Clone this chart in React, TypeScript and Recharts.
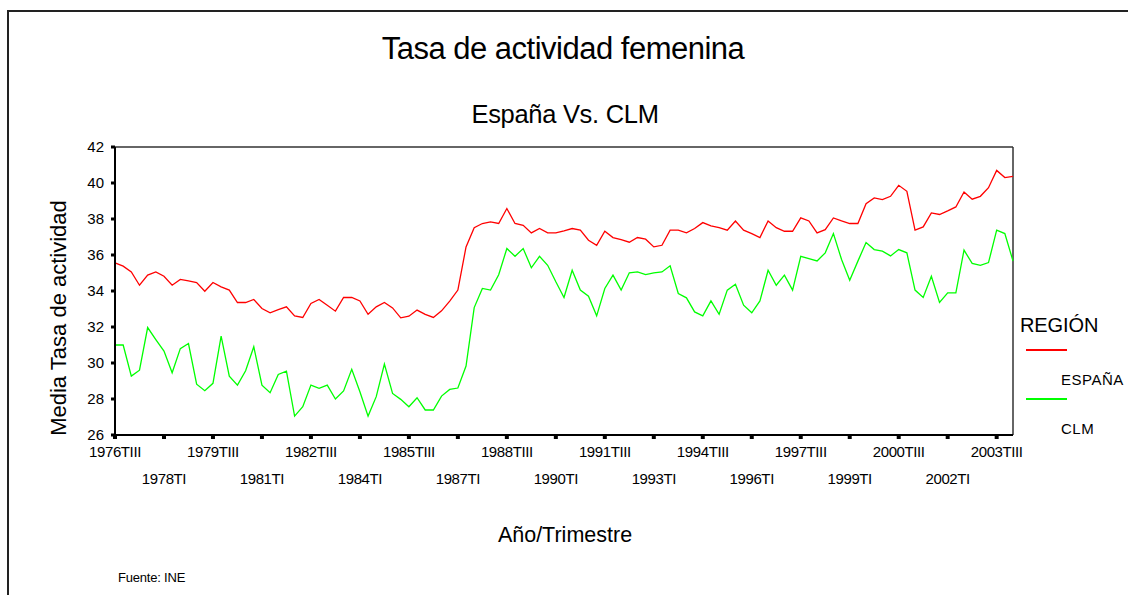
import React from "react";
import { LineChart, Line, XAxis, YAxis, ReferenceLine } from "recharts";

// Tasa de actividad femenina, trimestral 1976TIII - 2004TI
const START_YEAR = 1976;
const START_QUARTER = 3;
const QUARTER_NAMES = ["TI", "TII", "TIII", "TIV"];

const ESPANA = [
  35.56, 35.38, 35.06, 34.32, 34.88, 35.06, 34.82, 34.32, 34.64, 34.56,
  34.47, 33.99, 34.47, 34.23, 34.05, 33.36, 33.36, 33.53, 33.03, 32.79,
  32.97, 33.12, 32.62, 32.53, 33.31, 33.53, 33.21, 32.88, 33.64, 33.64,
  33.45, 32.71, 33.12, 33.36, 33.06, 32.51, 32.6, 32.94, 32.7, 32.53,
  32.9, 33.44, 34.05, 36.45, 37.52, 37.75, 37.84, 37.75, 38.58, 37.75,
  37.65, 37.23, 37.47, 37.23, 37.23, 37.34, 37.47, 37.38, 36.82, 36.54,
  37.32, 36.97, 36.86, 36.71, 36.97, 36.88, 36.45, 36.54, 37.38, 37.38,
  37.23, 37.47, 37.8, 37.62, 37.52, 37.38, 37.89, 37.38, 37.19, 36.97,
  37.89, 37.52, 37.32, 37.32, 38.06, 37.89, 37.23, 37.41, 38.06, 37.89,
  37.75, 37.75, 38.85, 39.17, 39.08, 39.26, 39.87, 39.54, 37.38, 37.56,
  38.34, 38.25, 38.45, 38.67, 39.5, 39.1, 39.26, 39.74, 40.7, 40.3,
  40.37,
];

const CLM = [
  31.0, 31.0, 29.27, 29.6, 31.97, 31.3, 30.66, 29.46, 30.8, 31.08,
  28.82, 28.46, 28.87, 31.49, 29.27, 28.77, 29.57, 30.9, 28.77, 28.35,
  29.36, 29.55, 27.05, 27.57, 28.77, 28.59, 28.77, 28.0, 28.45, 29.65,
  28.4, 27.05, 28.13, 29.94, 28.31, 27.98, 27.57, 28.07, 27.39, 27.39,
  28.16, 28.53, 28.61, 29.83, 33.08, 34.14, 34.05, 34.9, 36.36, 35.93,
  36.36, 35.29, 35.93, 35.43, 34.51, 33.64, 35.15, 34.05, 33.71, 32.62,
  34.14, 34.88, 34.05, 35.01, 35.06, 34.91, 35.01, 35.06, 35.4, 33.86,
  33.62, 32.84, 32.62, 33.45, 32.71, 34.05, 34.38, 33.21, 32.79, 33.45,
  35.15, 34.32, 34.88, 34.05, 35.93, 35.8, 35.67, 36.12, 37.19, 35.75,
  34.6, 35.66, 36.69, 36.3, 36.21, 35.95, 36.3, 36.12, 34.05, 33.64,
  34.82, 33.36, 33.9, 33.9, 36.27, 35.53, 35.43, 35.58, 37.38, 37.19,
  35.67,
];

const Y_TICKS = [26, 28, 30, 32, 34, 36, 38, 40, 42];

const SERIES = [
  { key: "espana", name: "ESPAÑA", color: "#ff0000", values: ESPANA },
  { key: "clm", name: "CLM", color: "#00ff00", values: CLM },
];

const FONT = '"Liberation Sans", Arial, sans-serif';

function periodLabel(i: number) {
  const q = START_QUARTER - 1 + i;
  const year = START_YEAR + Math.floor(q / 4);
  return `${year}${QUARTER_NAMES[q % 4]}`;
}

const data = ESPANA.map((_, i) => {
  const row: Record<string, number | string> = { period: periodLabel(i) };
  SERIES.forEach((s) => {
    row[s.key] = s.values[i];
  });
  return row;
});

function XTick(props: any) {
  const { x, y, payload } = props;
  const label = String(payload.value);
  const lower = !label.endsWith("TIII");
  return (
    <text
      x={x}
      y={y + (lower ? 43 : 16)}
      textAnchor="middle"
      fontSize={15}
      fontFamily={FONT}
      letterSpacing={-0.4}
      fill="#000"
    >
      {label}
    </text>
  );
}

export default function App() {
  return (
    <div
      style={{
        position: "absolute",
        left: 0,
        top: 0,
        width: 1128,
        height: 595,
        background: "#fff",
        overflow: "hidden",
        fontFamily: FONT,
        color: "#000",
      }}
    >
      <div
        style={{
          position: "absolute",
          left: 7,
          top: 10,
          width: 1140,
          height: 600,
          borderTop: "2px solid #222",
          borderLeft: "2px solid #222",
        }}
      />
      <div style={{ position: "absolute", left: 0, top: 0 }}>
        <LineChart
          width={1128}
          height={595}
          data={data}
          margin={{ top: 147, right: 115, bottom: 100, left: 55 }}
        >
          <XAxis
            dataKey="period"
            interval={5}
            height={60}
            axisLine={{ stroke: "#000", strokeWidth: 2 }}
            tickLine={{ stroke: "#000", strokeWidth: 4 }}
            tickSize={4}
            tick={<XTick />}
          />
          <YAxis
            type="number"
            domain={[26, 42]}
            ticks={Y_TICKS}
            width={60}
            allowDataOverflow
            axisLine={{ stroke: "#000", strokeWidth: 2 }}
            tickLine={{ stroke: "#000", strokeWidth: 3 }}
            tickSize={4}
            tickMargin={7}
            tick={{ fontSize: 15, fill: "#000", fontFamily: FONT }}
          />
          <ReferenceLine y={42} stroke="#333" strokeWidth={1.5} />
          <ReferenceLine x={data[data.length - 1].period as string} stroke="#333" strokeWidth={1.5} />
          {SERIES.map((s) => (
            <Line
              key={s.key}
              dataKey={s.key}
              name={s.name}
              stroke={s.color}
              strokeWidth={1.3}
              dot={false}
              activeDot={false}
              isAnimationActive={false}
            />
          ))}
        </LineChart>
      </div>

      <div
        style={{
          position: "absolute",
          left: 563,
          top: 48,
          transform: "translate(-50%, -50%)",
          fontSize: 31,
          letterSpacing: -0.5,
          whiteSpace: "nowrap",
          lineHeight: 1,
        }}
      >
        Tasa de actividad femenina
      </div>
      <div
        style={{
          position: "absolute",
          left: 565,
          top: 115,
          transform: "translate(-50%, -50%)",
          fontSize: 25.5,
          letterSpacing: -0.3,
          whiteSpace: "nowrap",
          lineHeight: 1,
        }}
      >
        España Vs. CLM
      </div>
      <div
        style={{
          position: "absolute",
          left: 59,
          top: 318,
          transform: "translate(-50%, -50%) rotate(-90deg)",
          fontSize: 22,
          whiteSpace: "nowrap",
          lineHeight: 1,
        }}
      >
        Media Tasa de actividad
      </div>
      <div
        style={{
          position: "absolute",
          left: 565,
          top: 536,
          transform: "translate(-50%, -50%)",
          fontSize: 21.5,
          whiteSpace: "nowrap",
          lineHeight: 1,
        }}
      >
        Año/Trimestre
      </div>
      <div
        style={{
          position: "absolute",
          left: 118,
          top: 577,
          transform: "translateY(-50%)",
          fontSize: 13,
          letterSpacing: -0.2,
          whiteSpace: "nowrap",
          lineHeight: 1,
        }}
      >
        Fuente: INE
      </div>

      {/* leyenda */}
      <div
        style={{
          position: "absolute",
          left: 1020,
          top: 325,
          transform: "translateY(-50%)",
          fontSize: 20,
          letterSpacing: -0.1,
          whiteSpace: "nowrap",
          lineHeight: 1,
        }}
      >
        REGIÓN
      </div>
      {SERIES.map((s, i) => (
        <React.Fragment key={s.key}>
          <div
            style={{
              position: "absolute",
              left: 1026,
              top: 349 + i * 49,
              width: 41,
              height: 1.5,
              background: s.color,
            }}
          />
          <div
            style={{
              position: "absolute",
              left: 1061,
              top: 379 + i * 49,
              transform: "translateY(-50%)",
              fontSize: 15,
              letterSpacing: 0.5,
              whiteSpace: "nowrap",
              lineHeight: 1,
            }}
          >
            {s.name}
          </div>
        </React.Fragment>
      ))}
    </div>
  );
}
